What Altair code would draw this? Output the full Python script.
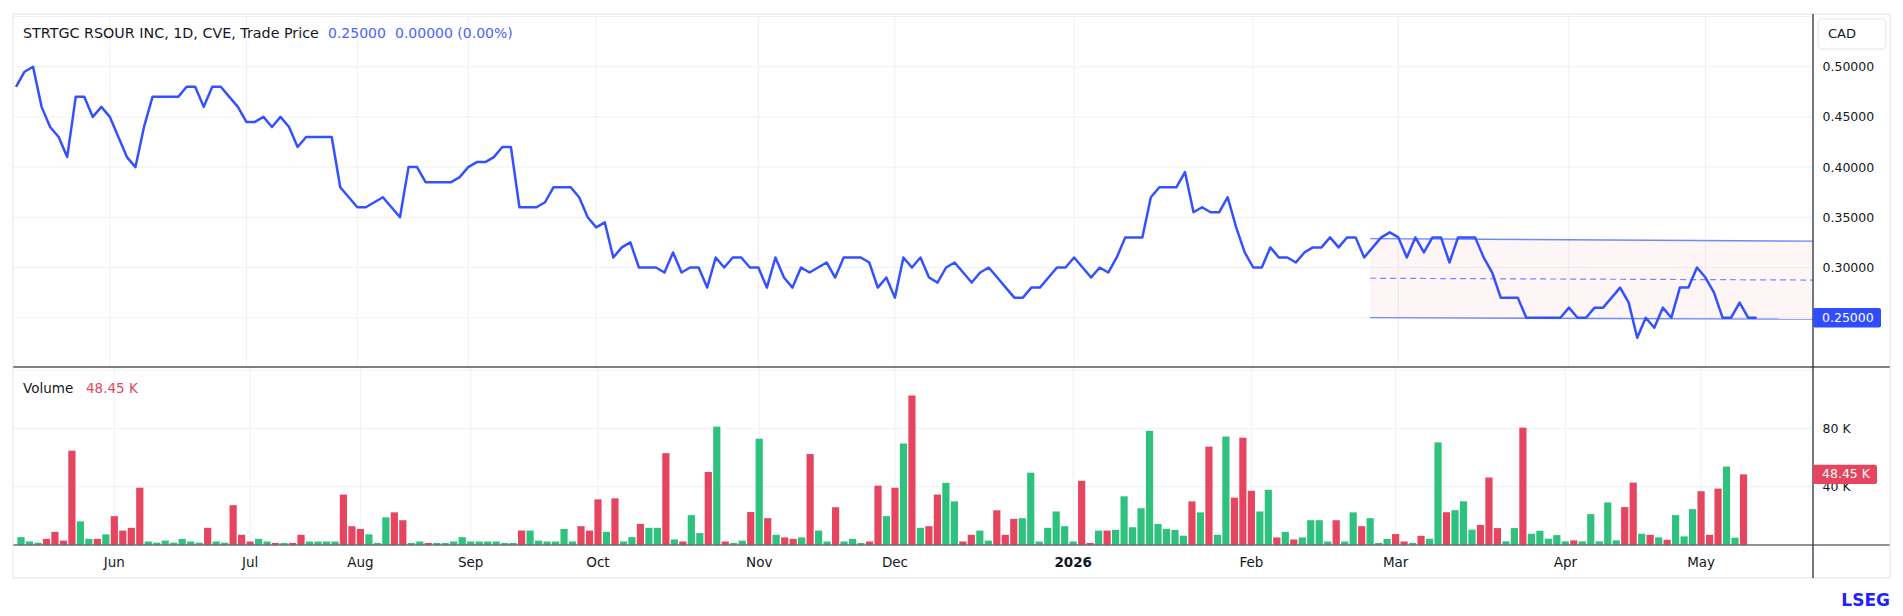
import altair as alt
import pandas as pd

# ---------------- data ----------------
prices = [
    0.48, 0.495, 0.50, 0.46, 0.44, 0.43, 0.41, 0.47, 0.47, 0.45,
    0.46, 0.45, 0.43, 0.41, 0.40, 0.44, 0.47, 0.47, 0.47, 0.47,
    0.48, 0.48, 0.46, 0.48, 0.48, 0.47, 0.46, 0.445, 0.445, 0.45,
    0.44, 0.45, 0.44, 0.42, 0.43, 0.43, 0.43, 0.43, 0.38, 0.37,
    0.36, 0.36, 0.365, 0.37, 0.36, 0.35, 0.40, 0.40, 0.385, 0.385,
    0.385, 0.385, 0.39, 0.40, 0.405, 0.405, 0.41, 0.42, 0.42, 0.36,
    0.36, 0.36, 0.365, 0.38, 0.38, 0.38, 0.37, 0.35, 0.34, 0.345,
    0.31, 0.32, 0.325, 0.30, 0.30, 0.30, 0.295, 0.315, 0.295, 0.30,
    0.30, 0.28, 0.31, 0.30, 0.31, 0.31, 0.30, 0.30, 0.28, 0.31,
    0.29, 0.28, 0.30, 0.295, 0.30, 0.305, 0.29, 0.31, 0.31, 0.31,
    0.305, 0.28, 0.29, 0.27, 0.31, 0.30, 0.31, 0.29, 0.285, 0.30,
    0.305, 0.295, 0.285, 0.295, 0.30, 0.29, 0.28, 0.27, 0.27, 0.28,
    0.28, 0.29, 0.30, 0.30, 0.31, 0.30, 0.29, 0.30, 0.295, 0.31,
    0.33, 0.33, 0.33, 0.37, 0.38, 0.38, 0.38, 0.395, 0.355, 0.36,
    0.355, 0.355, 0.37, 0.34, 0.315, 0.30, 0.30, 0.32, 0.31, 0.31,
    0.305, 0.315, 0.32, 0.32, 0.33, 0.32, 0.33, 0.33, 0.31, 0.32,
    0.33, 0.335, 0.33, 0.31, 0.33, 0.315, 0.33, 0.33, 0.305, 0.33,
    0.33, 0.33, 0.31, 0.295, 0.27, 0.27, 0.27, 0.25, 0.25, 0.25,
    0.25, 0.25, 0.26, 0.25, 0.25, 0.26, 0.26, 0.27, 0.28, 0.265,
    0.23, 0.25, 0.24, 0.26, 0.25, 0.28, 0.28, 0.30, 0.29, 0.275,
    0.25, 0.25, 0.265, 0.25, 0.25,
]

volumes_k = [
    5.4, 2.4, 1.6, 4.2, 9.0, 3.0, 64.7, 16.2, 4.2, 4.2,
    7.3, 19.8, 9.9, 11.8, 39.3, 2.4, 1.6, 3.0, 1.6, 4.2,
    2.4, 1.6, 11.8, 2.4, 1.6, 27.3, 7.0, 2.4, 4.2, 2.4,
    1.4, 1.4, 1.4, 7.0, 2.4, 2.4, 2.4, 2.4, 34.6, 12.9,
    11.0, 7.3, 1.4, 19.0, 22.4, 17.0, 1.4, 2.4, 1.4, 1.4,
    1.4, 2.4, 5.4, 2.4, 2.4, 2.4, 2.4, 1.4, 1.4, 9.9,
    9.9, 3.0, 2.4, 2.4, 11.0, 2.4, 12.9, 9.9, 31.3, 9.0,
    32.0, 2.4, 5.4, 14.4, 11.8, 11.8, 63.0, 3.8, 2.4, 20.5,
    8.2, 50.1, 81.2, 2.4, 1.4, 3.0, 22.6, 72.9, 18.4, 7.0,
    5.2, 4.2, 5.2, 62.4, 9.9, 2.4, 25.9, 2.4, 4.2, 1.4,
    2.4, 40.7, 19.8, 39.3, 69.6, 102.6, 11.8, 12.9, 34.6, 42.6,
    29.9, 2.4, 7.0, 9.9, 3.0, 23.8, 7.0, 17.9, 18.4, 49.6,
    2.4, 11.8, 23.0, 12.9, 2.4, 44.0, 1.4, 9.9, 9.9, 10.4,
    33.4, 12.2, 25.2, 78.4, 14.4, 11.0, 10.4, 6.4, 29.9, 22.4,
    67.5, 7.0, 74.4, 32.5, 73.6, 37.2, 23.0, 37.9, 5.2, 9.0,
    3.8, 5.2, 17.0, 17.0, 2.4, 17.0, 2.4, 22.4, 12.9, 18.4,
    1.4, 4.2, 7.5, 2.4, 1.4, 6.3, 4.3, 70.4, 22.5, 23.9,
    30.0, 10.5, 13.7, 46.3, 11.6, 2.5, 11.6, 80.5, 7.7, 9.8,
    4.3, 6.8, 2.5, 3.2, 2.5, 21.2, 2.5, 29.2, 3.2, 26.0,
    42.8, 7.7, 7.0, 5.2, 3.6, 20.5, 5.9, 24.6, 36.9, 7.0,
    38.7, 53.8, 5.0, 48.45,
]

month_labels = ["Jun", "Jul", "Aug", "Sep", "Oct", "Nov", "Dec", "2026", "Feb", "Mar", "Apr", "May"]
month_bars = [11, 27, 40, 53, 68, 87, 103, 124, 145, 162, 182, 198]

price_ticks = [0.25, 0.30, 0.35, 0.40, 0.45, 0.50]
price_grid = [0.25, 0.30, 0.35, 0.40, 0.45, 0.50, 0.55]
vol_ticks = [40, 80]
vol_grid = [40, 80, 120]

channel_x = [158.7, 210.6]
channel_upper = [0.3288, 0.3262]
channel_mid = [0.2893, 0.2875]
channel_lower = [0.2500, 0.2485]

title_text = "STRTGC RSOUR INC, 1D, CVE, Trade Price"
currency = "CAD"

# ---------------- layout / style ----------------
W = 1800
H_P = 353
H_V = 178
FULL_W = 1877
FONT = "DejaVu Sans"
TXT = "#131722"
BLUE = "#3451ff"
GREEN = "#2ec27e"
RED = "#e5455e"
GRID = "#f0f1f4"
FRAME = "#e3e5ea"

x_dom = [-0.352, 210.6]
p_dom = [0.2009, 0.5525]
v_dom = [0, 122.1]

xs = alt.Scale(domain=x_dom, nice=False, zero=False)
ps = alt.Scale(domain=p_dom, nice=False, zero=False)
vs = alt.Scale(domain=v_dom, nice=False, zero=False)

price_axis = alt.Axis(orient="right", values=price_ticks, format=".5f", grid=False,
                      domain=False, ticks=False, labelPadding=9, labelFont=FONT,
                      labelFontSize=12.5, labelColor=TXT, title=None)
vol_axis = alt.Axis(orient="right", values=vol_ticks, labelExpr="datum.value + ' K'",
                    grid=False, domain=False, ticks=False, labelPadding=9, labelFont=FONT,
                    labelFontSize=12.5, labelColor=TXT, title=None)


def X(field):
    return alt.X(field, type="quantitative", scale=xs, axis=None)


def YP(field):
    return alt.Y(field, type="quantitative", scale=ps, axis=price_axis)


def YV(field):
    return alt.Y(field, type="quantitative", scale=vs, axis=vol_axis)


n = len(prices)
df = pd.DataFrame({"i": list(range(n)), "price": prices})
vdf = pd.DataFrame({"i": list(range(len(volumes_k))), "vol": volumes_k})
vdf["dir"] = ["up" if (k == 0 or prices[k] >= prices[k - 1]) else "down" for k in vdf["i"]]

months_df = pd.DataFrame({"i": month_bars, "label": month_labels})
months_df["bold"] = months_df["label"].str.isdigit()

chan_df = pd.DataFrame({"x": channel_x, "upper": channel_upper, "mid": channel_mid, "lower": channel_lower})
one = pd.DataFrame({"a": [0]})

last_price = prices[-1]
chg = prices[-1] - prices[-2]
pct = chg / prices[-2] * 100
last_vol = volumes_k[-1]

# half heights of the value boxes, in data units
dp = 9.7 * (p_dom[1] - p_dom[0]) / H_P
dv = 9.7 * (v_dom[1] - v_dom[0]) / H_V
pbox = pd.DataFrame({"y1": [last_price + dp], "y2": [last_price - dp], "p": [last_price],
                     "label": [f"{last_price:.5f}"]})
vbox = pd.DataFrame({"y1": [last_vol + dv], "y2": [last_vol - dv], "v": [last_vol],
                     "label": [f"{last_vol:.2f} K"]})


def hline(y, x1, x2, color, sw=1):
    return alt.Chart(one).mark_rule(color=color, strokeWidth=sw).encode(
        x=alt.value(x1), x2=alt.value(x2), y=alt.value(y))


def vline(x, y1, y2, color, sw=1):
    return alt.Chart(one).mark_rule(color=color, strokeWidth=sw).encode(
        x=alt.value(x), y=alt.value(y1), y2=alt.value(y2))


def label(txt, x, y, color=TXT, size=13.5, weight="normal", align="left"):
    return alt.Chart(one).mark_text(text=txt, color=color, fontSize=size, font=FONT,
                                    fontWeight=weight, align=align, baseline="middle").encode(
        x=alt.value(x), y=alt.value(y))


# ---------------- price panel ----------------
vgrid_p = alt.Chart(months_df).mark_rule(color=GRID, strokeWidth=1).encode(
    x=X("i"), y=alt.value(0), y2=alt.value(H_P))
hgrid_p = alt.Chart(pd.DataFrame({"g": price_grid})).mark_rule(color=GRID, strokeWidth=1).encode(
    y=YP("g"), x=alt.value(0), x2=alt.value(W))
chan_fill = alt.Chart(chan_df).mark_area(color="#f23645", opacity=0.05).encode(
    x=X("x"), y=YP("upper"), y2="lower")
chan_up = alt.Chart(chan_df).mark_line(color="#6f89ff", strokeWidth=1.3).encode(x=X("x"), y=YP("upper"))
chan_lo = alt.Chart(chan_df).mark_line(color="#6f89ff", strokeWidth=1.3).encode(x=X("x"), y=YP("lower"))
chan_md = alt.Chart(chan_df).mark_line(color="#6f89ff", strokeWidth=1.2, strokeDash=[6, 4]).encode(
    x=X("x"), y=YP("mid"))
price_line = alt.Chart(df).mark_line(color=BLUE, strokeWidth=2.5, strokeJoin="round").encode(
    x=X("i"), y=YP("price"))
pbox_rect = alt.Chart(pbox).mark_rect(color="#2f4dff", cornerRadius=2).encode(
    x=alt.value(W), x2=alt.value(W + 68), y=YP("y1"), y2="y2")
pbox_txt = alt.Chart(pbox).mark_text(color="white", fontSize=12.5, font=FONT, align="left",
                                     baseline="middle").encode(
    x=alt.value(W + 9), y=YP("p"), text="label:N")
cad_rect = alt.Chart(one).mark_rect(fill="white", stroke=FRAME, strokeWidth=1, cornerRadius=4).encode(
    x=alt.value(W + 5), x2=alt.value(W + 73), y=alt.value(5), y2=alt.value(35))

top = alt.layer(
    vgrid_p, hgrid_p, chan_fill, chan_up, chan_lo, chan_md, price_line,
    hline(0, 0, FULL_W, FRAME), vline(0, 0, H_P, FRAME), vline(FULL_W, 0, H_P, FRAME),
    vline(W, 0, H_P, "#2a2e39", 1.3),
    pbox_rect, pbox_txt, cad_rect,
    label(currency, W + 15, 20, size=13),
    label(title_text, 10, 20, size=14.3),
    label(f"{last_price:.5f}", 315, 20, color="#4a63ff", size=14),
    label(f"{chg:.5f} ({pct:.2f}%)", 382, 20, color="#4a63ff", size=14),
).properties(width=W, height=H_P)

# ---------------- volume panel ----------------
vgrid_v = alt.Chart(months_df).mark_rule(color=GRID, strokeWidth=1).encode(
    x=X("i"), y=alt.value(0), y2=alt.value(H_V))
hgrid_v = alt.Chart(pd.DataFrame({"g": vol_grid})).mark_rule(color=GRID, strokeWidth=1).encode(
    y=YV("g"), x=alt.value(0), x2=alt.value(W))
bars = alt.Chart(vdf).mark_bar(width=7.2).encode(
    x=X("i"), y=YV("vol"),
    color=alt.Color("dir:N", scale=alt.Scale(domain=["up", "down"], range=[GREEN, RED]), legend=None))
vbox_rect = alt.Chart(vbox).mark_rect(color=RED, cornerRadius=2).encode(
    x=alt.value(W), x2=alt.value(W + 64), y=YV("y1"), y2="y2")
vbox_txt = alt.Chart(vbox).mark_text(color="white", fontSize=12.5, font=FONT, align="left",
                                     baseline="middle").encode(
    x=alt.value(W + 9), y=YV("v"), text="label:N")
mlabels = alt.Chart(months_df).transform_filter("!datum.bold").mark_text(
    fontSize=13.5, font=FONT, color=TXT, baseline="middle").encode(
    x=X("i"), y=alt.value(H_V + 18), text="label:N")
mlabels_b = alt.Chart(months_df).transform_filter("datum.bold").mark_text(
    fontSize=13.5, font=FONT, color=TXT, fontWeight="bold", baseline="middle").encode(
    x=X("i"), y=alt.value(H_V + 18), text="label:N")

BOT = H_V + 33
bottom = alt.layer(
    vgrid_v, hgrid_v, bars,
    hline(0, 0, FULL_W, "#000000", 1.2),
    hline(H_V, 0, FULL_W, "#6a6d78", 1.5),
    hline(BOT, 0, FULL_W, FRAME),
    vline(0, 0, BOT, FRAME), vline(FULL_W, 0, BOT, FRAME),
    vline(W, 0, BOT, "#2a2e39", 1.3),
    vbox_rect, vbox_txt, mlabels, mlabels_b,
    label("Volume", 10, 22, size=13.5),
    label(f"{last_vol:.2f} K", 73, 22, color=RED, size=13.5),
    label("LSEG", FULL_W, 234, color="#1f1fff", size=17, weight="bold", align="right"),
).properties(width=W, height=H_V)

chart = alt.vconcat(top, bottom, spacing=0, bounds="flush").properties(
    padding={"left": 4, "top": 5, "right": 4, "bottom": 4},
    background="white",
).configure_view(stroke=None)

chart.save("out.html", embed_options={"renderer": "svg", "actions": False})
